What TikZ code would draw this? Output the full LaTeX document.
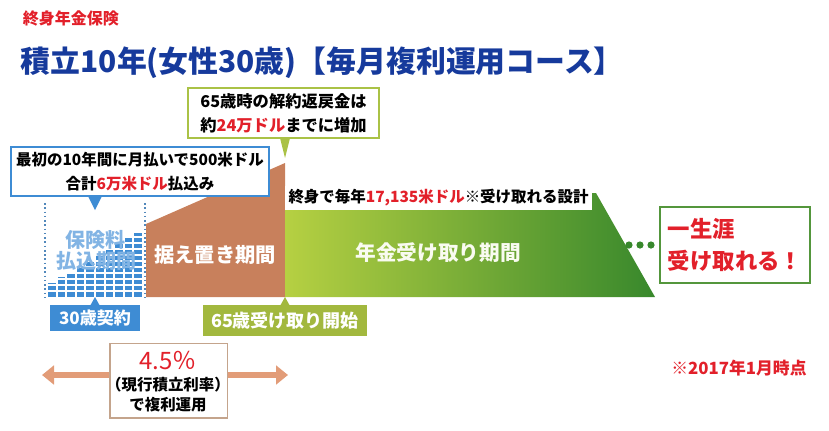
\documentclass[tikz,border=0pt]{standalone}
\usepackage{fontspec}
\setmainfont{Noto Sans CJK JP}
\usetikzlibrary{arrows.meta}
\tikzset{every picture/.style={line width=0.75pt}}

\definecolor{headred}{RGB}{226,32,42}
\definecolor{headblue}{RGB}{22,58,156}
\definecolor{payblue}{RGB}{62,140,212}
\definecolor{paylight}{RGB}{130,180,228}
\definecolor{deferbrown}{RGB}{200,128,92}
\definecolor{penlight}{RGB}{182,208,66}
\definecolor{pendark}{RGB}{56,136,44}
\definecolor{olive}{RGB}{162,184,62}
\definecolor{calloutgreen}{RGB}{170,194,70}
\definecolor{boxgreen}{RGB}{84,150,60}
\definecolor{ratearrow}{RGB}{226,156,120}
\definecolor{rateframe}{RGB}{196,164,140}

\tikzset{
  bold/.style={font=\bfseries},
  callout/.style={draw, fill=white, line width=1.5pt, inner sep=4pt, align=center},
  tag/.style={text=white, font=\bfseries, inner sep=0pt}
}

\begin{document}
\begin{tikzpicture}[x=0.75pt,y=0.75pt,yscale=-1,xscale=1]
		\path[use as bounding box] (0,0) rectangle (829,430);
		
		% Text Node
		\node[anchor=west, text=headred, font=\fontsize{12}{14}\selectfont\bfseries] (plan) at (18,18) {終身年金保険};
		% Text Node
		\node[anchor=west, text=headblue, font=\fontsize{22.4}{24}\selectfont\bfseries] (course) at (16,63) {積立10年(女性30歳)【毎月複利運用コース】};
		
		%Payment bars
		\foreach \i in {0,...,9}
		  \fill[payblue] (48+\i*9.6,283-\i*5.6) rectangle (55.5+\i*9.6,297);
		\foreach \j in {0,...,10}
		  \draw[white, line width=0.9pt] (47,291-\j*6) -- (144,291-\j*6);
		%Dotted lines
		\draw[payblue!70!gray, dotted, line width=1.2pt] (45,203) -- (45,297);
		\draw[payblue!70!gray, dotted, line width=1.2pt] (145,203) -- (145,297);
		% Text Node
		\node[text=paylight, font=\fontsize{15}{17}\selectfont\bfseries] (paylabel) at (95,240) {保険料};
		\node[text=paylight, font=\fontsize{15}{17}\selectfont\bfseries] (paylabelb) at (96,261) {払込期間};
		
		%Deferment area
		\fill[deferbrown] (146,297) -- (146,224) -- (285,163) -- (285,297) -- cycle;
		% Text Node
		\node[text=white, font=\fontsize{15.2}{17}\selectfont\bfseries] (defer) at (215,255) {据え置き期間};
		
		%Pension area
		\shade[left color=penlight, right color=pendark] (285,193) -- (596,193) -- (655,297) -- (285,297) -- cycle;
		% Text Node
		\node[text=white!92!penlight, font=\fontsize{15.5}{17}\selectfont\bfseries] (pension) at (438,253) {年金受け取り期間};
		% Text Node
		\node[anchor=west, fill=white, inner sep=3pt, font=\fontsize{11.6}{13}\selectfont\bfseries] (yearly) at (284,198) {終身で毎年\textcolor{headred}{17,135米ドル}※受け取れる設計};
		
		%Dots
		\foreach \x in {629,640,651}
		  \fill[pendark] (\x,245) circle (3.6);
		
		% Text Node
		\node[draw=boxgreen, line width=1.5pt, minimum width=112.5pt, minimum height=57pt, text=headred, align=left, font=\fontsize{16.8}{24}\selectfont\bfseries] (lifelong) at (735,245) {一生涯\\受け取れる！};
		
		%Callout payment
		\fill[payblue] (88,196) -- (102,196) -- (95,210) -- cycle;
		\node[callout, draw=payblue, minimum width=187pt, minimum height=37pt, font=\fontsize{11.6}{18}\selectfont\bfseries] (paycall) at (140,171.5) {最初の10年間に月払いで500米ドル\\合計\textcolor{headred}{6万米ドル}払込み};
		
		%Callout surrender
		\fill[calloutgreen] (279,134) -- (291,134) -- (285,158) -- cycle;
		\node[callout, draw=calloutgreen, minimum width=143pt, minimum height=33pt, font=\fontsize{12.2}{18}\selectfont\bfseries] (surrender) at (283.5,113) {65歳時の解約返戻金は\\約\textcolor{headred}{24万ドル}までに増加};
		
		%Start tags
		\fill[payblue] (90,306) -- (100,306) -- (95,297) -- cycle;
		\node[tag, fill=payblue, minimum width=67.5pt, minimum height=19.5pt, font=\fontsize{12.8}{14}\selectfont\bfseries] (contract) at (95,318) {30歳契約};
		\fill[olive] (280,306) -- (290,306) -- (285,297) -- cycle;
		\node[tag, fill=olive, minimum width=123pt, minimum height=23pt, font=\fontsize{13.5}{15}\selectfont\bfseries] (payout) at (285,320.5) {65歳受け取り開始};
		
		%Rate arrow
		\coordinate (rateL) at (42,375);
		\coordinate (rateR) at (288,375);
		\draw[ratearrow, line width=5pt, {Triangle[length=9pt,width=14pt]}-{Triangle[length=9pt,width=14pt]}] (rateL) -- (rateR);
		\node[draw=rateframe, fill=white, line width=1pt, minimum width=88pt, minimum height=56pt] (ratebox) at (168.5,380.5) {};
		% Text Node
		\node[text=headred, font=\fontsize{18}{20}\selectfont] (rate) at (168,361) {4.5％};
		\node[font=\fontsize{11.6}{13}\selectfont\bfseries] (ratenote) at (168,385) {（現行積立利率）};
		\node[font=\fontsize{11.6}{13}\selectfont\bfseries] (ratehow) at (168,405) {で複利運用};
		
		% Text Node
		\node[text=headred, font=\fontsize{12.6}{14}\selectfont\bfseries] (asof) at (739,368) {※2017年1月時点};
		
\end{tikzpicture}
\end{document}
